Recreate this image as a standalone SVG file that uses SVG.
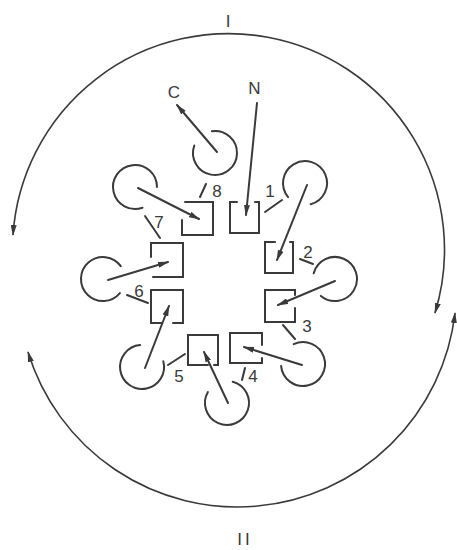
<svg xmlns="http://www.w3.org/2000/svg" width="457" height="550" viewBox="0 0 457 550">
<defs>
<style>
.ln{fill:none;stroke:#3a3a3a;stroke-width:2;stroke-linecap:round;stroke-linejoin:miter}
.big{fill:none;stroke:#3a3a3a;stroke-width:1.6}
.ar{marker-end:url(#ah)}
.t{font-family:"Liberation Sans",Arial,sans-serif;font-size:17px;fill:#3a3a3a;text-anchor:middle}
</style>
<marker id="ah" viewBox="0 0 11 6" refX="10" refY="3" markerWidth="11" markerHeight="6" markerUnits="userSpaceOnUse" orient="auto-start-reverse">
<path d="M0,0 L11,3 L0,6 z" fill="#3a3a3a"/>
</marker>
</defs>
<rect width="457" height="550" fill="#ffffff"/>
<g id="cycle-arcs">
<path id="arc-I" class="big" d="M13,235 A216 216 0 1 1 435,313" marker-start="url(#ah)" marker-end="url(#ah)"/>
<path id="arc-II" class="big" d="M28,352 A219 219 0 0 0 455,313" marker-start="url(#ah)" marker-end="url(#ah)"/>
<text class="t" x="228" y="27">I</text>
<text class="t" x="245" y="545" font-size="18" letter-spacing="3">II</text>
</g>
<g id="label-C"><text class="t" x="174" y="98">C</text></g>
<g id="label-N"><text class="t" x="254.5" y="94">N</text></g>
<g id="circle-8"><path class="ln" d="M211.9,131.2 A22 22 0 1 1 194.3,145.5"/></g>
<g id="circle-1"><path class="ln" d="M288.1,197.1 A22 22 0 1 1 310.7,204.3"/></g>
<g id="circle-2"><path class="ln" d="M313.7,273.3 A22 22 0 1 1 320.9,295.9"/></g>
<g id="circle-3"><path class="ln" d="M293.7,344.1 A22 22 0 1 1 281.1,365.9"/></g>
<g id="circle-4"><path class="ln" d="M232.7,381.7 A22 22 0 1 1 207.9,392"/></g>
<g id="circle-5"><path class="ln" d="M163.3,361.3 A22 22 0 1 1 140.1,345.1"/></g>
<g id="circle-6"><path class="ln" d="M119.9,293.1 A22 22 0 1 1 120.8,266.1"/></g>
<g id="circle-7"><path class="ln" d="M142.5,207.7 A22 22 0 1 1 157,187"/></g>
<g id="square-8"><path class="ln" d="M185,202 H213 V235 H182 V220"/></g>
<g id="square-1"><path class="ln" d="M237,202 H230 V233 H259 V202 H255"/></g>
<g id="square-2"><path class="ln" d="M275,242 H265 V273 H293 V242 H290"/></g>
<g id="square-3"><path class="ln" d="M295,308 V322 H265 V290 H295 V295"/></g>
<g id="square-4"><path class="ln" d="M262,345 V333 H230 V363 H262 V358"/></g>
<g id="square-5"><path class="ln" d="M208,365 H188 V335 H218 V365 H214"/></g>
<g id="square-6"><path class="ln" d="M162,323 H151 V290 H183 V323 H173"/></g>
<g id="square-7"><path class="ln" d="M151,257 V243 H183 V277 H153"/></g>
<g id="labels">
<path class="ln" d="M265,212 L282,200"/><text class="t" x="270" y="197">1</text>
<path class="ln" d="M300,259 L313,264"/><text class="t" x="308" y="258">2</text>
<path class="ln" d="M283,325 L295,339"/><text class="t" x="307" y="332">3</text>
<path class="ln" d="M242,380 L245,368"/><text class="t" x="253" y="382">4</text>
<path class="ln" d="M168,365 L185,354"/><text class="t" x="179" y="382">5</text>
<path class="ln" d="M127,295 L148,303"/><text class="t" x="139" y="297">6</text>
<path class="ln" d="M145,216 L160,238"/><text class="t" x="159" y="228">7</text>
<path class="ln" d="M200,197 L206,184"/><text class="t" x="217" y="197">8</text>
</g>
<g id="connectors">
<path class="ln ar" d="M217,152 L177,105"/>
<path class="ln ar" d="M257,103 L246,215"/>
<path class="ln ar" d="M307,185 L277,260"/>
<path class="ln ar" d="M335,281 L278,305"/>
<path class="ln ar" d="M302,365 L244,347"/>
<path class="ln ar" d="M228,403 L204,352"/>
<path class="ln ar" d="M145,368 L169,306"/>
<path class="ln ar" d="M108,280 L168,262"/>
<path class="ln ar" d="M138,188 L199,219"/>
</g>
</svg>
